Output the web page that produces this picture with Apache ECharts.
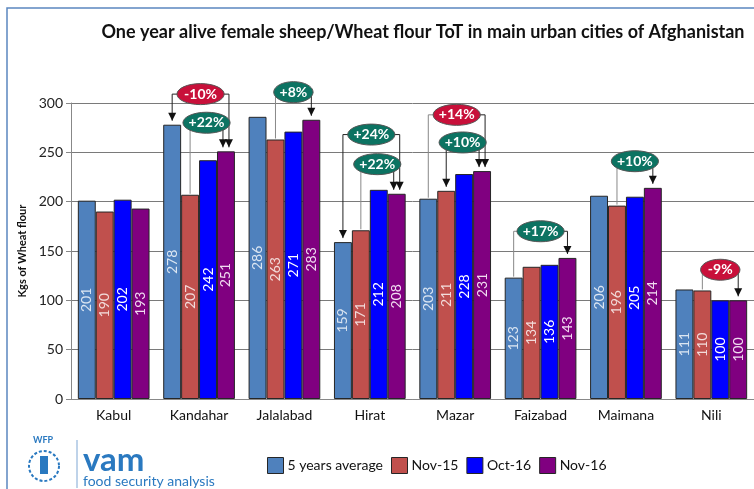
<!DOCTYPE html>
<html>
<head>
<meta charset="utf-8">
<script src="https://cdn.jsdelivr.net/npm/echarts@6/dist/echarts.min.js"></script>
<style>
  html, body { margin: 0; padding: 0; background: #fff; }
  #chart { width: 754px; height: 489px; }
</style>
</head>
<body>
<div id="chart"></div>
<script>
  // data
  var cities = ['Kabul', 'Kandahar', 'Jalalabad', 'Hirat', 'Mazar', 'Faizabad', 'Maimana', 'Nili'];
  var avg5y = [201, 278, 286, 159, 203, 123, 206, 111];
  var nov15 = [190, 207, 263, 171, 211, 134, 196, 110];
  var oct16 = [202, 242, 271, 212, 228, 136, 205, 100];
  var nov16 = [193, 251, 283, 208, 231, 143, 214, 100];
  var seriesNames = ['5 years average', 'Nov-15', 'Oct-16', 'Nov-16'];
  var yMin = 0, yMax = 300, yStep = 50;

  // change callouts: city, bar from / bar to (series index), text, level (kg), arrows
  var callouts = [
    { city: 1, from: 0, to: 3, text: '-10%', level: 309, arrowFrom: true,  arrowTo: true, shift: 3,  red: true },
    { city: 1, from: 1, to: 3, text: '+22%', level: 280, arrowFrom: false, arrowTo: true, shift: -3, red: false },
    { city: 2, from: 1, to: 3, text: '+8%',  level: 311, arrowFrom: false, arrowTo: true, shift: 0,  red: false },
    { city: 3, from: 0, to: 3, text: '+24%', level: 268, arrowFrom: true,  arrowTo: true, shift: 3,  red: false },
    { city: 3, from: 1, to: 3, text: '+22%', level: 238, arrowFrom: false, arrowTo: true, shift: -3, red: false },
    { city: 4, from: 0, to: 3, text: '+14%', level: 288, arrowFrom: false, arrowTo: true, shift: 3,  red: true },
    { city: 4, from: 1, to: 3, text: '+10%', level: 260, arrowFrom: true,  arrowTo: true, shift: -3, red: false },
    { city: 5, from: 0, to: 3, text: '+17%', level: 170, arrowFrom: false, arrowTo: true, shift: 0,  red: false },
    { city: 6, from: 1, to: 3, text: '+10%', level: 241, arrowFrom: false, arrowTo: true, shift: 0,  red: false },
    { city: 7, from: 1, to: 3, text: '-9%',  level: 131, arrowFrom: false, arrowTo: true, shift: 0,  red: true }
  ];

  var allValues = [avg5y, nov15, oct16, nov16];
  var barColors = ['#4F81BD', '#C0504D', '#0000FF', '#800080'];
  var labelColors = ['#dce6f2', '#f2dcdb', '#ffffff', '#f0dcf0'];
  var catGap = 0.16;
  var FONT = 'Lato, "Open Sans", sans-serif';

  var myChart = echarts.init(document.getElementById('chart'));

  var series = allValues.map(function (vals, i) {
    return {
      name: seriesNames[i],
      type: 'bar',
      data: vals,
      barGap: '0%',
      barCategoryGap: (catGap * 100) + '%',
      itemStyle: { color: barColors[i], borderColor: '#262626', borderWidth: 1 },
      label: {
        show: true,
        position: 'inside',
        rotate: 90,
        color: labelColors[i],
        fontSize: 14,
        fontFamily: FONT
      }
    };
  });

  myChart.setOption({
    animation: false,
    textStyle: { fontFamily: FONT },
    title: {
      text: 'One year alive female sheep/Wheat flour ToT in main urban cities of Afghanistan',
      left: 418,
      textAlign: 'center',
      top: 18,
      textStyle: { fontSize: 18, fontWeight: 'bold', color: '#111', fontFamily: FONT }
    },
    legend: {
      data: seriesNames,
      left: 262,
      top: 452,
      itemWidth: 16,
      itemHeight: 16,
      itemGap: 8,
      icon: 'rect',
      itemStyle: { borderColor: '#262626', borderWidth: 1 },
      textStyle: { fontSize: 14, color: '#111', padding: [0, 0, 0, -1] }
    },
    grid: { left: 71, right: -3, top: 103, bottom: 90, containLabel: false },
    xAxis: {
      type: 'category',
      data: cities,
      axisLine: { lineStyle: { color: '#888' } },
      axisTick: { show: false },
      axisLabel: { color: '#111', fontSize: 14, margin: 9 }
    },
    yAxis: {
      type: 'value',
      min: yMin,
      max: yMax,
      interval: yStep,
      name: 'Kgs of Wheat flour',
      nameLocation: 'middle',
      nameGap: 42,
      nameTextStyle: { fontSize: 11, fontWeight: 'bold', color: '#111' },
      axisLine: { show: true, lineStyle: { color: '#888' } },
      axisTick: { show: true, length: 5, lineStyle: { color: '#888' } },
      axisLabel: { color: '#222', fontSize: 14, margin: 8 },
      splitLine: { lineStyle: { color: '#7a7a7a', width: 1 } }
    },
    series: series
  });

  // bar centre from the category axis
  function barX(city, s) {
    var c0 = myChart.convertToPixel({ xAxisIndex: 0 }, 0);
    var c1 = myChart.convertToPixel({ xAxisIndex: 0 }, 1);
    var band = c1 - c0;
    var bw = band * (1 - catGap) / 4;
    var c = myChart.convertToPixel({ xAxisIndex: 0 }, city);
    return c + (s - 1.5) * bw;
  }
  function py(v) { return myChart.convertToPixel({ yAxisIndex: 0 }, v); }

  function arrowHead(x, y) {
    return { type: 'polygon', z: 20, shape: { points: [[x - 4, y - 8], [x + 4, y - 8], [x, y]] }, style: { fill: '#111' } };
  }

  var g = [];
  callouts.forEach(function (a) {
    var xl = barX(a.city, a.from);
    var xr = barX(a.city, a.to) + a.shift;
    var yl = py(a.level);
    var topL = py(allValues[a.from][a.city]) - (a.arrowFrom ? 4 : 1);
    var topR = py(allValues[a.to][a.city]) - (a.arrowTo ? 4 : 1);
    // plain end in grey, arrow ends in black
    g.push({ type: 'polyline', z: 19, shape: { points: [[xl, topL], [xl, yl], [(xl + xr) / 2, yl]] },
      style: { stroke: a.arrowFrom ? '#222' : '#888', lineWidth: 1, fill: null } });
    g.push({ type: 'polyline', z: 19, shape: { points: [[(xl + xr) / 2, yl], [xr, yl], [xr, topR]] },
      style: { stroke: '#222', lineWidth: 1, fill: null } });
    if (a.arrowFrom) g.push(arrowHead(xl, topL));
    if (a.arrowTo) g.push(arrowHead(xr, topR));
    var cx = (xl + xr) / 2;
    var rx = a.text.length * 3.9 + 8;
    g.push({ type: 'ellipse', z: 21, shape: { cx: cx, cy: yl, rx: rx, ry: 10.5 },
      style: { fill: a.red ? '#C8103A' : '#0C7362', stroke: '#555', lineWidth: 1 } });
    g.push({ type: 'text', z: 22, x: cx, y: yl,
      style: { text: a.text, fill: '#fff', font: 'bold 14px ' + FONT, align: 'center', verticalAlign: 'middle' } });
  });

  // frame and logo
  g.push({ type: 'rect', z: 0, shape: { x: 7, y: 8, width: 760, height: 500 }, style: { fill: null, stroke: '#5b87c0', lineWidth: 1.5 } });
  g.push({ type: 'text', x: 33, y: 436, style: { text: 'WFP', fill: '#2a79c0', font: 'bold 9px ' + FONT } });
  g.push({ type: 'circle', shape: { cx: 44, cy: 466, r: 15 }, style: { fill: null, stroke: '#2a79c0', lineWidth: 2, lineDash: [3, 2] } });
  g.push({ type: 'rect', shape: { x: 40, y: 456, width: 8, height: 18 }, style: { fill: '#2a79c0' } });
  g.push({ type: 'line', shape: { x1: 77, y1: 440, x2: 77, y2: 488 }, style: { stroke: '#7fa7d4', lineWidth: 1 } });
  g.push({ type: 'text', x: 83, y: 444, style: { text: 'vam', fill: '#2a79c0', font: 'bold 33px ' + FONT } });
  g.push({ type: 'text', x: 83, y: 474, style: { text: 'food security analysis', fill: '#2a79c0', font: '14px ' + FONT } });

  myChart.setOption({ graphic: g });
</script>
</body>
</html>
